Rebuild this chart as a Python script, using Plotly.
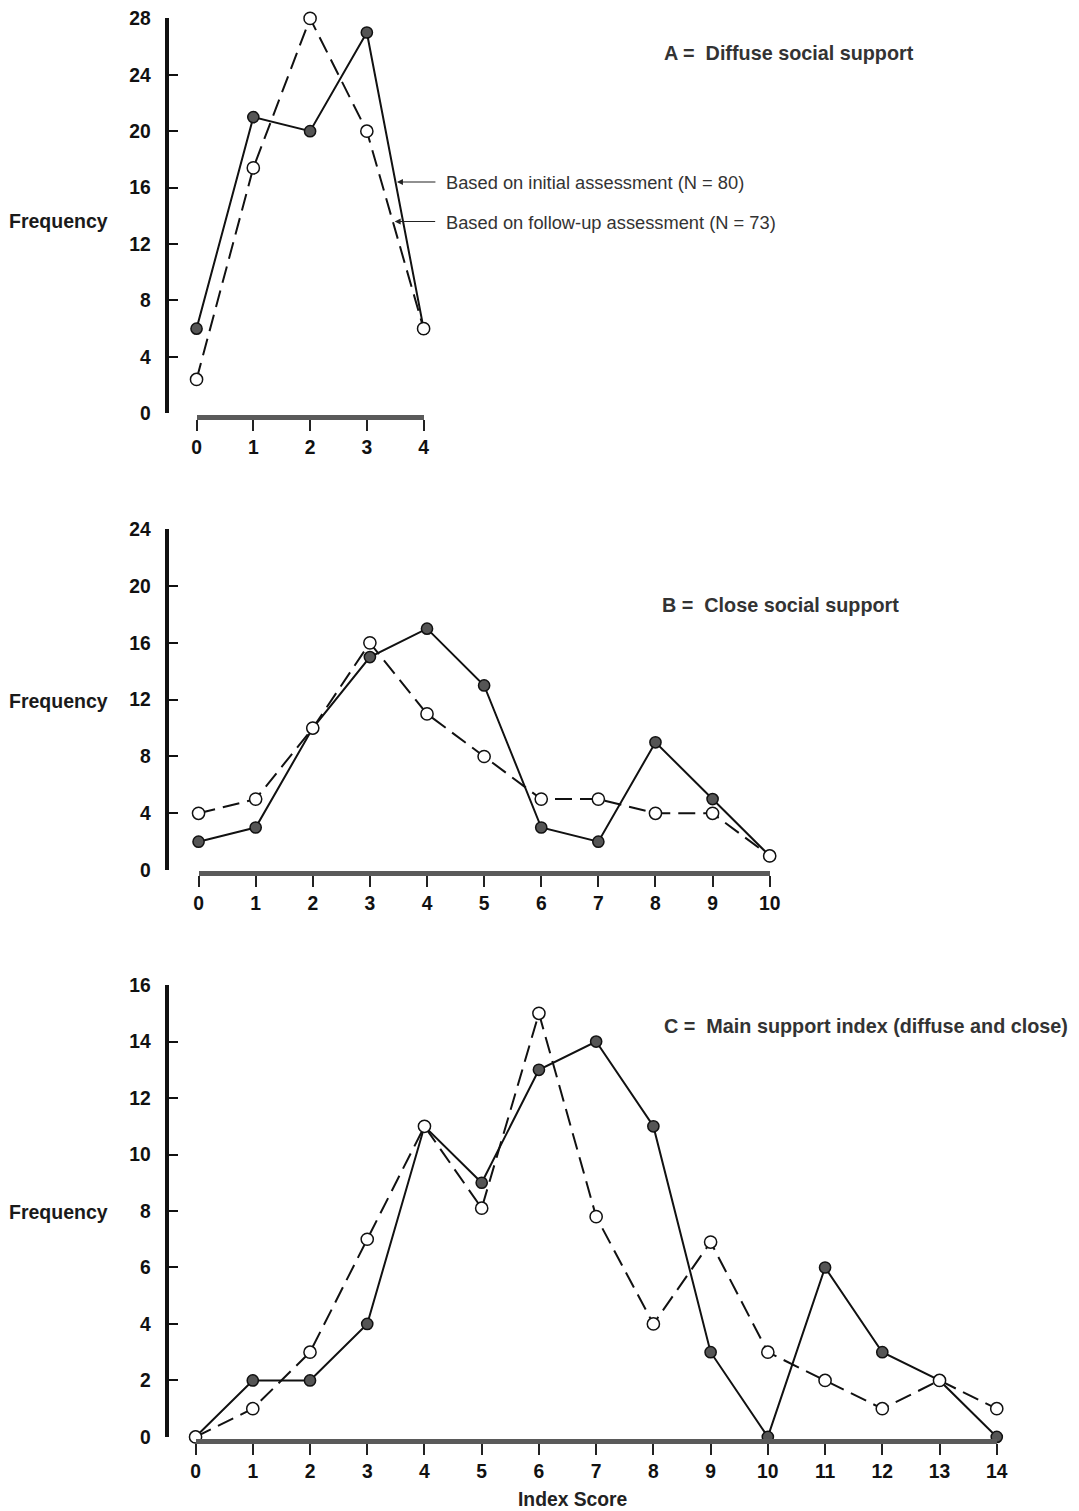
import plotly.graph_objects as go

# Frequency distributions of the support indices (initial vs follow-up assessment)
a_scores = [0, 1, 2, 3, 4]
a_initial = [6, 21, 20, 27, 6]
a_followup = [2.4, 17.4, 28, 20, 6]

b_scores = [0, 1, 2, 3, 4, 5, 6, 7, 8, 9, 10]
b_initial = [2, 3, 10, 15, 17, 13, 3, 2, 9, 5, 1]
b_followup = [4, 5, 10, 16, 11, 8, 5, 5, 4, 4, 1]

c_scores = [0, 1, 2, 3, 4, 5, 6, 7, 8, 9, 10, 11, 12, 13, 14]
c_initial = [0, 2, 2, 4, 11, 9, 13, 14, 11, 3, 0, 6, 3, 2, 0]
c_followup = [0, 1, 3, 7, 11, 8.1, 15, 7.8, 4, 6.9, 3, 2, 1, 2, 1]

a_yticks = [0, 4, 8, 12, 16, 20, 24, 28]
b_yticks = [0, 4, 8, 12, 16, 20, 24]
c_yticks = [0, 2, 4, 6, 8, 10, 12, 14, 16]

# Layout is specified in displayed page pixels; the page shows the figure
# slightly reduced and offset by the body margin, so positions are mapped back.
W, H = 1085, 1530
SX, SY = 0.985, 0.9866
OX, OY = 5.5, 9.6
FONT = "Liberation Sans"


def px(x):
    """Displayed x position -> paper fraction."""
    return ((x - OX) / SX) / W


def py(y):
    """Displayed y position (from top) -> paper fraction."""
    return 1 - ((y - OY) / SY) / H


fig = go.Figure()

panels = [
    ("", a_scores, a_initial, a_followup),
    ("2", b_scores, b_initial, b_followup),
    ("3", c_scores, c_initial, c_followup),
]

for suffix, xs, init, follow in panels:
    xa, ya = "x" + suffix, "y" + suffix
    fig.add_trace(go.Scatter(
        x=xs, y=follow, xaxis=xa, yaxis=ya, mode="lines",
        line=dict(color="#111", width=2, dash="17px,8px"),
        hoverinfo="skip", showlegend=False))
    fig.add_trace(go.Scatter(
        x=xs, y=init, xaxis=xa, yaxis=ya, mode="lines+markers",
        line=dict(color="#111", width=2),
        marker=dict(size=11.2, color="#555", line=dict(color="#111", width=1.5)),
        cliponaxis=False, showlegend=False, name="Initial"))
    fig.add_trace(go.Scatter(
        x=xs, y=follow, xaxis=xa, yaxis=ya, mode="markers",
        marker=dict(size=12.2, color="white", line=dict(color="#111", width=1.5)),
        cliponaxis=False, showlegend=False, name="Follow-up"))

tickfont = dict(family=FONT, size=19.3, color="#111", weight="bold")


def x_axis(x0, x1, xmax, bar_y, vals):
    return dict(
        domain=[px(x0), px(x1)], range=[0, xmax], anchor="free", position=py(bar_y),
        showline=True, linewidth=5, linecolor="#5a5a5a",
        ticks="outside", ticklen=11, tickwidth=2, tickcolor="#222",
        tickvals=vals, ticktext=[str(v) for v in vals], tickfont=tickfont,
        showgrid=False, zeroline=False, fixedrange=True)


def y_axis(y0, y1, ymax, vals):
    return dict(
        domain=[py(y0), py(y1)], range=[0, ymax], anchor="free", position=px(167),
        showline=True, linewidth=4, linecolor="#111",
        ticks="inside", ticklen=9, tickwidth=1.5, tickcolor="#111",
        tickvals=vals, ticktext=[str(v) for v in vals], tickfont=tickfont,
        ticklabelstandoff=10,
        showgrid=False, zeroline=False, fixedrange=True)


fig.update_layout(
    width=W, height=H, autosize=False,
    margin=dict(l=0, r=0, t=0, b=0),
    paper_bgcolor="white", plot_bgcolor="rgba(0,0,0,0)",
    xaxis=x_axis(197, 424, 4, 417, a_scores),
    yaxis=y_axis(413, 18, 28, a_yticks),
    xaxis2=x_axis(199, 770, 10, 873, b_scores),
    yaxis2=y_axis(870, 529, 24, b_yticks),
    xaxis3=x_axis(196, 997, 14, 1441, c_scores),
    yaxis3=y_axis(1437, 985, 16, c_yticks),
)

label_font = dict(family=FONT, size=19.5, color="#1a1a1a", weight="bold")
note_font = dict(family=FONT, size=19.8, color="#333", weight="bold")
small_font = dict(family=FONT, size=18.3, color="#333")

annotations = []
for yy in (221, 701, 1212):
    annotations.append(dict(
        text="Frequency", xref="paper", yref="paper", x=px(7), y=py(yy),
        xanchor="left", yanchor="middle", showarrow=False, font=label_font))

annotations += [
    dict(text="A =\u00a0 Diffuse social support", xref="paper", yref="paper",
         x=px(662), y=py(53), xanchor="left", yanchor="middle",
         showarrow=False, font=note_font),
    dict(text="B =\u00a0 Close social support", xref="paper", yref="paper",
         x=px(660), y=py(605), xanchor="left", yanchor="middle",
         showarrow=False, font=note_font),
    dict(text="C =\u00a0 Main support index (diffuse and close)", xref="paper", yref="paper",
         x=px(662), y=py(1026), xanchor="left", yanchor="middle",
         showarrow=False, font=note_font),
    dict(text="Index Score", xref="paper", yref="paper",
         x=px(573), y=py(1500), xanchor="center", yanchor="middle",
         showarrow=False, font=dict(family=FONT, size=19.3, color="#222", weight="bold")),
    # Series keys with arrows pointing at the lines in panel A
    dict(text="Based on initial assessment (N = 80)", xref="paper", yref="paper",
         x=px(444), y=py(182), xanchor="left", yanchor="middle",
         showarrow=False, font=small_font),
    dict(text="Based on follow-up assessment (N = 73)", xref="paper", yref="paper",
         x=px(444), y=py(222), xanchor="left", yanchor="middle",
         showarrow=False, font=small_font),
    dict(text="", xref="x", yref="y", x=3.53, y=16.4, ax=40, ay=0,
         showarrow=True, arrowhead=2, arrowsize=1, arrowwidth=1.2, arrowcolor="#222"),
    dict(text="", xref="x", yref="y", x=3.49, y=13.6, ax=42, ay=0,
         showarrow=True, arrowhead=2, arrowsize=1, arrowwidth=1.2, arrowcolor="#222"),
]

fig.update_layout(annotations=annotations)

fig.write_html("out.html")
